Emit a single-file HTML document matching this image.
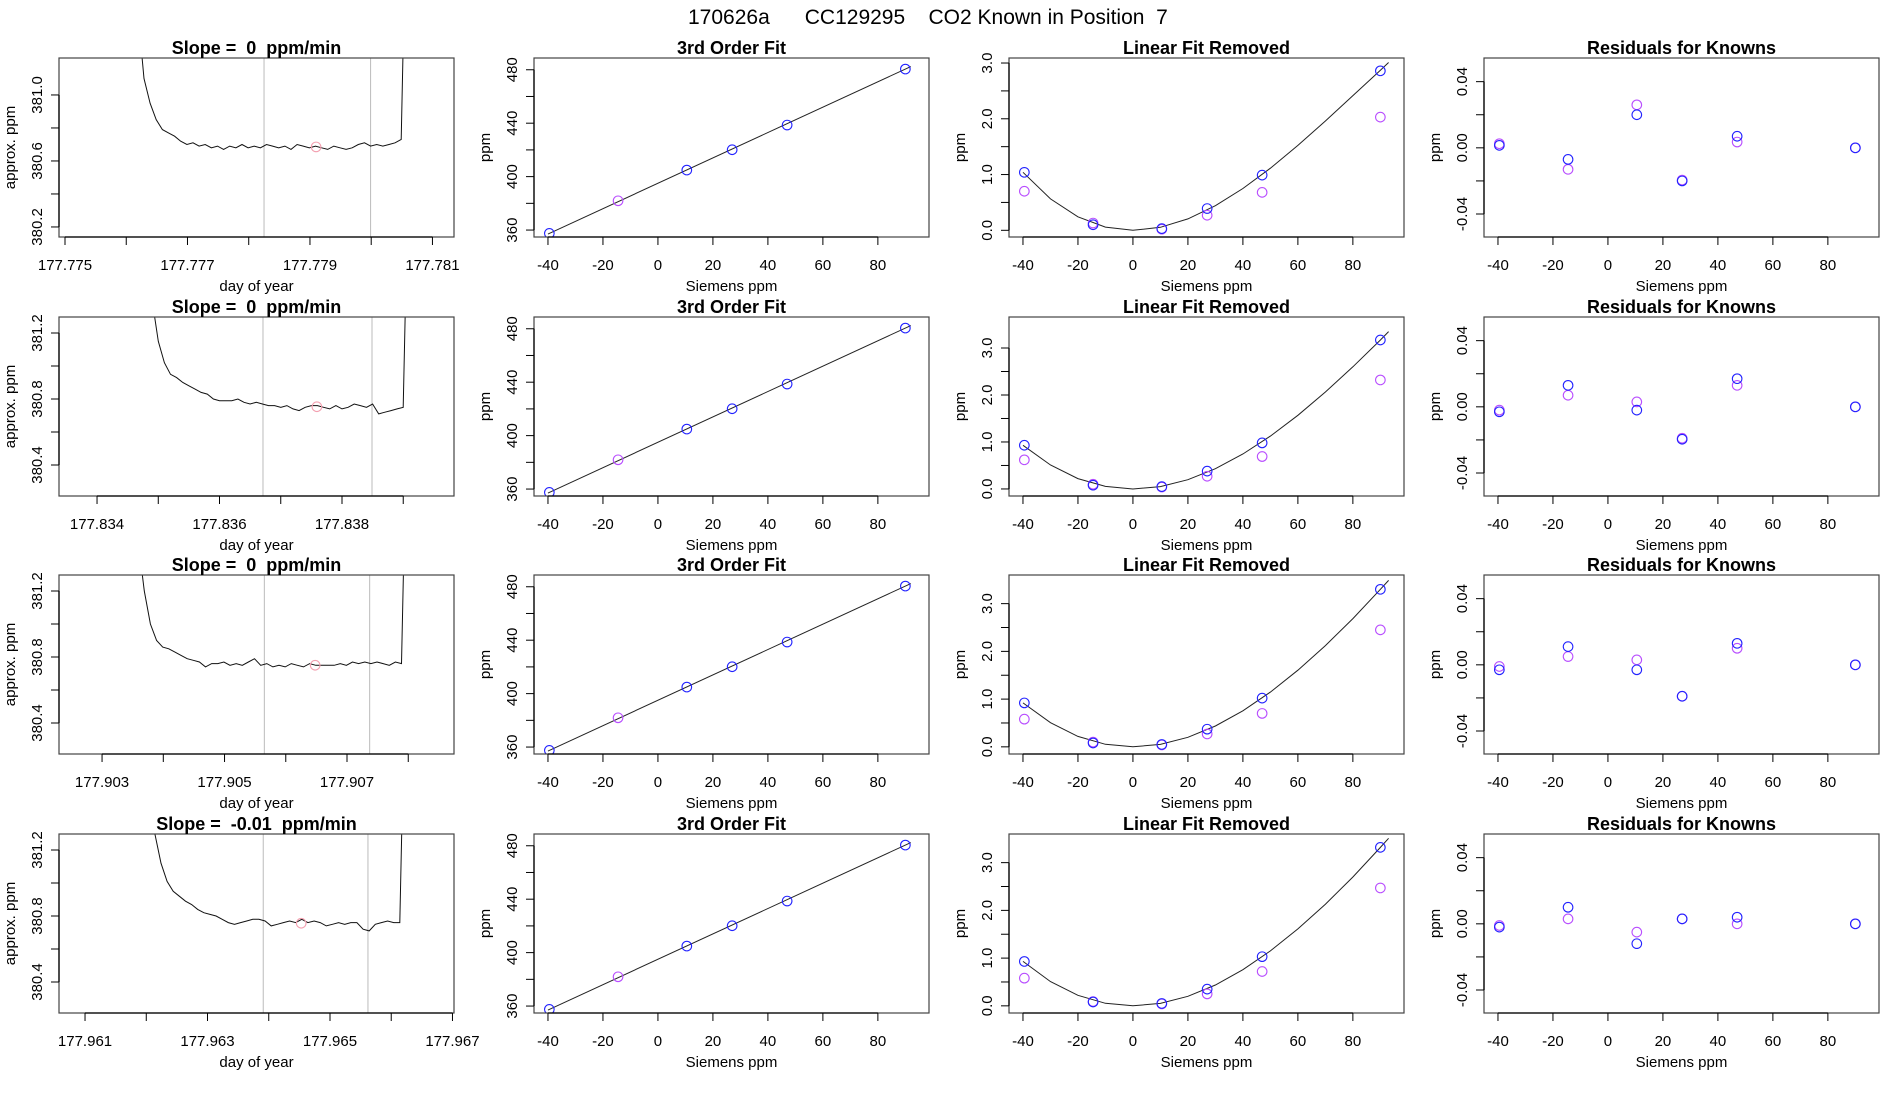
<!DOCTYPE html>
<html><head><meta charset="utf-8">
<style>
html,body{margin:0;padding:0;background:#fff;}
svg{display:block;font-family:"Liberation Sans",Arial,sans-serif;}
svg text{white-space:pre;}
</style></head>
<body>
<svg id="chart" width="1900" height="1100" viewBox="0 0 1900 1100" xmlns="http://www.w3.org/2000/svg">
<rect width="1900" height="1100" fill="#fff"/>
<text x="688" y="24" font-size="21" xml:space="preserve">170626a      CC129295    CO2 Known in Position  7</text>
</svg>
<script>
// ---- data ----
const slopeTitles = ["Slope =  0  ppm/min","Slope =  0  ppm/min","Slope =  0  ppm/min","Slope =  -0.01  ppm/min"];
const tsStart = [177.77619, 177.83490, 177.90359, 177.96214];
const tsStep = 0.0001;
const tsValues = [
 [381.5,381.1,380.95,380.85,380.79,380.77,380.75,380.72,380.70,380.71,380.69,380.70,380.68,380.69,380.67,380.69,380.68,380.70,380.68,380.69,380.68,380.70,380.69,380.68,380.69,380.67,380.70,380.69,380.68,380.69,380.68,380.67,380.69,380.68,380.67,380.68,380.70,380.71,380.69,380.70,380.69,380.70,380.71,380.73,382.5],
 [381.4,381.15,381.02,380.95,380.93,380.90,380.88,380.86,380.84,380.83,380.80,380.79,380.79,380.79,380.80,380.78,380.77,380.78,380.77,380.76,380.76,380.75,380.76,380.74,380.73,380.75,380.76,380.76,380.75,380.74,380.76,380.74,380.75,380.77,380.76,380.75,380.77,380.71,380.72,380.73,380.74,380.75,382.5],
 [381.5,381.2,381.0,380.90,380.86,380.85,380.83,380.81,380.79,380.78,380.77,380.74,380.76,380.76,380.77,380.75,380.76,380.75,380.77,380.79,380.75,380.76,380.74,380.75,380.74,380.76,380.75,380.74,380.76,380.75,380.75,380.75,380.75,380.76,380.75,380.77,380.76,380.77,380.76,380.77,380.76,380.75,380.77,380.76,382.5],
 [381.3,381.12,381.01,380.95,380.92,380.89,380.87,380.84,380.82,380.81,380.80,380.78,380.76,380.75,380.76,380.77,380.78,380.78,380.77,380.74,380.75,380.76,380.77,380.76,380.78,380.76,380.77,380.76,380.74,380.75,380.76,380.75,380.76,380.76,380.72,380.71,380.75,380.76,380.77,380.76,380.76,382.5]
];
const tsDomainLeft = [177.774902, 177.833379, 177.902297, 177.960575];
const tsYTop = [381.224, 381.297, 381.297, 381.297];
const tsXTickStart = [177.775, 177.834, 177.903, 177.961];
const tsXTickLabels = [["177.775","177.777","177.779","177.781"],["177.834","177.836","177.838"],["177.903","177.905","177.907"],["177.961","177.963","177.965","177.967"]];
const tsYTicks = [[380.2,380.4,380.6,380.8,381.0],[380.4,380.6,380.8,381.0,381.2],[380.4,380.6,380.8,381.0,381.2],[380.4,380.6,380.8,381.0,381.2]];
const tsYLabels = [["380.2","380.6","381.0"],["380.4","380.8","381.2"],["380.4","380.8","381.2"],["380.4","380.8","381.2"]];
const vlineTimes = [[177.77825,177.77999],[177.83671,177.83849],[177.90565,177.90737],[177.96391,177.96562]];
const markTime = [177.77910, 177.83759, 177.90648, 177.96453];
const markValue = [380.685, 380.753, 380.75, 380.756];

const knownX = [-39.5,-14.5,10.5,27,47,90];
const fitY = [357.5,381.9,404.9,420.1,438.6,480.5];
const lfBlue = [[1.04,0.10,0.03,0.39,0.99,2.86],[0.93,0.08,0.05,0.38,0.98,3.17],[0.92,0.08,0.05,0.37,1.02,3.30],[0.93,0.08,0.05,0.35,1.03,3.32]];
const lfViolet = [[0.70,0.13,0.02,0.27,0.68,2.03],[0.62,0.10,0.04,0.27,0.69,2.32],[0.58,0.10,0.04,0.27,0.70,2.45],[0.58,0.09,0.04,0.25,0.72,2.47]];
const curveX = [-40,-30,-20,-10,0,10,20,30,40,50,60,70,80,90,93];
const curveY = [
 [1.04,0.564,0.242,0.058,0,0.054,0.205,0.442,0.749,1.114,1.522,1.96,2.416,2.87,3.009],
 [0.93,0.510,0.221,0.054,0,0.051,0.197,0.431,0.744,1.125,1.568,2.063,2.599,3.17,3.349],
 [0.92,0.506,0.219,0.054,0,0.051,0.199,0.436,0.754,1.147,1.605,2.121,2.687,3.30,3.486],
 [0.93,0.508,0.220,0.054,0,0.051,0.199,0.437,0.757,1.152,1.612,2.130,2.700,3.32,3.51]
];
const lfYTop = [3.09,3.66,3.6,3.6];
const lfYBottom = [-0.12,-0.15,-0.15,-0.15];
const resBlue = [[0.0015,-0.007,0.020,-0.020,0.007,0.0],[-0.003,0.013,-0.002,-0.0196,0.017,0.0],[-0.003,0.011,-0.003,-0.019,0.013,0.0],[-0.002,0.010,-0.012,0.003,0.004,0.0]];
const resViolet = [[0.0025,-0.013,0.026,-0.0195,0.0035,0.0],[-0.002,0.007,0.003,-0.019,0.013,0.0],[-0.001,0.005,0.003,-0.019,0.010,0.0],[-0.001,0.003,-0.005,0.003,0.000,0.0]];
const xTicksS = [-40,-20,0,20,40,60,80];

// ---- layout ----
const svg = document.getElementById('chart');
const NS = 'http://www.w3.org/2000/svg';
const rowTop = [58,317,575,834];
const colLeft = [59,534,1009,1484];
const PW = 395, PH = 179;
function mk(tag, attrs, parent){
  const e = document.createElementNS(NS, tag);
  for (const k in attrs) e.setAttribute(k, attrs[k]);
  (parent||svg).appendChild(e);
  return e;
}
function txt(x,y,s,size,extra,parent){
  const t = mk('text', Object.assign({x:x,y:y,'font-size':size,'text-anchor':'middle'}, extra||{}), parent);
  t.textContent = s;
  return t;
}
let clipId = 0;
function panel(r,c,title,ylab,xlab,xmin,xmax,ymin,ymax){
  const g = mk('g',{});
  
  
  const L = colLeft[c], T = rowTop[r];
  const sx = v => L + (v - xmin)/(xmax - xmin)*PW;
  const sy = v => T + (ymax - v)/(ymax - ymin)*PH;
  const id = 'clip'+(clipId++);
  const cp = mk('clipPath',{id:id}, g);
  mk('rect',{x:L,y:T,width:PW,height:PH}, cp);
  const inner = mk('g',{'clip-path':'url(#'+id+')'}, g);
  const box = mk('rect',{x:L,y:T,width:PW,height:PH,fill:'none',stroke:'#444','stroke-width':1.2}, g);
  
  
  const tt = txt(L+PW/2, T-4, title, 18, {'font-weight':'bold'}, g);
  
  
  const yl = txt(0,0,ylab,15,{transform:'translate('+(L-44)+','+(T+PH/2)+') rotate(-90)'}, g);
  
  
  const xl = txt(L+PW/2, T+233, xlab, 15, {}, g);
  
  
  return {g, inner, sx, sy, L, T};
}
function xAxis(p, vals, labels){
  const y = p.T+PH;
  const xs = vals.map(p.sx);
  mk('line',{x1:xs[0],x2:xs[xs.length-1],y1:y,y2:y,stroke:'#000','stroke-width':1.3}, p.g);
  vals.forEach((v,i)=>{
    mk('line',{x1:xs[i],x2:xs[i],y1:y,y2:y+8,stroke:'#000'}, p.g);
    if (labels[i] !== null) {
      const t = txt(xs[i], p.T+212, labels[i], 15, {}, p.g);
      
      
    }
  });
}
function yAxis(p, vals, labels){
  const x = p.L;
  const ys = vals.map(p.sy);
  mk('line',{x1:x,x2:x,y1:ys[0],y2:ys[ys.length-1],stroke:'#000','stroke-width':1.3}, p.g);
  vals.forEach((v,i)=>{
    mk('line',{x1:x-8,x2:x,y1:ys[i],y2:ys[i],stroke:'#000'}, p.g);
    if (labels[i] !== null) {
      const t = txt(0,0,labels[i],15,{transform:'translate('+(x-17)+','+ys[i]+') rotate(-90)'}, p.g);
      
      
    }
  });
}
function circ(p, x, y, color, name){
  const c = mk('circle',{cx:p.sx(x),cy:p.sy(y),r:4.8,fill:'none',stroke:color,'stroke-width':1.1}, p.inner);
  
  
}
const SX0 = -45.08, SX1 = 98.6;
const BLUE = '#2222ff', VIOLET = '#b84dff';

for (let r=0;r<4;r++){
  const xmin = tsDomainLeft[r], xmax = xmin + 0.00645;
  const ymax = tsYTop[r], ymin = ymax - PH/165;
  const p1 = panel(r,0,slopeTitles[r],'approx. ppm','day of year',xmin,xmax,ymin,ymax);
  vlineTimes[r].forEach(t=>{
    const l = mk('line',{x1:p1.sx(t),x2:p1.sx(t),y1:p1.T,y2:p1.T+PH,stroke:'#bbb','stroke-width':1}, p1.inner);
    
    
  });
  const pts = tsValues[r].map((v,i)=>p1.sx(tsStart[r]+i*tsStep).toFixed(1)+','+p1.sy(v).toFixed(1)).join(' ');
  const pl = mk('polyline',{points:pts,fill:'none',stroke:'#111','stroke-width':1}, p1.inner);
  
  
  circ(p1, markTime[r], markValue[r], '#f3a0b0', 'mean-marker');
  const nT = Math.floor((xmax - tsXTickStart[r]) / 0.001 + 1e-6);
  const tv = [], tl = [];
  for (let i=0;i<=nT;i++){ tv.push(tsXTickStart[r]+i*0.001); tl.push(i%2===0 ? tsXTickLabels[r][i/2] : null); }
  xAxis(p1, tv, tl);
  yAxis(p1, tsYTicks[r], tsYTicks[r].map((v,i)=> i%2===0 ? tsYLabels[r][i/2] : null));

  const p2 = panel(r,1,'3rd Order Fit','ppm','Siemens ppm',SX0,SX1,354.8,488.8);
  const fl = mk('line',{x1:p2.sx(-40),y1:p2.sy(fitY[0]-0.5*0.953),x2:p2.sx(92),y2:p2.sy(fitY[5]+2*0.953),stroke:'#222','stroke-width':1}, p2.inner);
  
  
  knownX.forEach((x,i)=> circ(p2, x, fitY[i], i===1 ? VIOLET : BLUE, 'known-point'));
  xAxis(p2, xTicksS, xTicksS.map(String));
  yAxis(p2, [360,380,400,420,440,460,480], ['360',null,'400',null,'440',null,'480']);

  const p3 = panel(r,2,'Linear Fit Removed','ppm','Siemens ppm',SX0,SX1,lfYBottom[r],lfYTop[r]);
  const cpts = curveX.map((x,i)=>p3.sx(x).toFixed(1)+','+p3.sy(curveY[r][i]).toFixed(1)).join(' ');
  const cl = mk('polyline',{points:cpts,fill:'none',stroke:'#222','stroke-width':1}, p3.inner);
  
  
  knownX.forEach((x,i)=>{ circ(p3,x,lfViolet[r][i],VIOLET,'violet-point'); circ(p3,x,lfBlue[r][i],BLUE,'blue-point'); });
  xAxis(p3, xTicksS, xTicksS.map(String));
  yAxis(p3, [0,0.5,1,1.5,2,2.5,3], ['0.0',null,'1.0',null,'2.0',null,'3.0']);

  const p4 = panel(r,3,'Residuals for Knowns','ppm','Siemens ppm',SX0,SX1,-0.0539,0.0543);
  knownX.forEach((x,i)=>{ circ(p4,x,resViolet[r][i],VIOLET,'violet-residual'); circ(p4,x,resBlue[r][i],BLUE,'blue-residual'); });
  xAxis(p4, xTicksS, xTicksS.map(String));
  yAxis(p4, [-0.04,-0.02,0,0.02,0.04], ['-0.04',null,'0.00',null,'0.04']);
}
</script>
</body></html>
